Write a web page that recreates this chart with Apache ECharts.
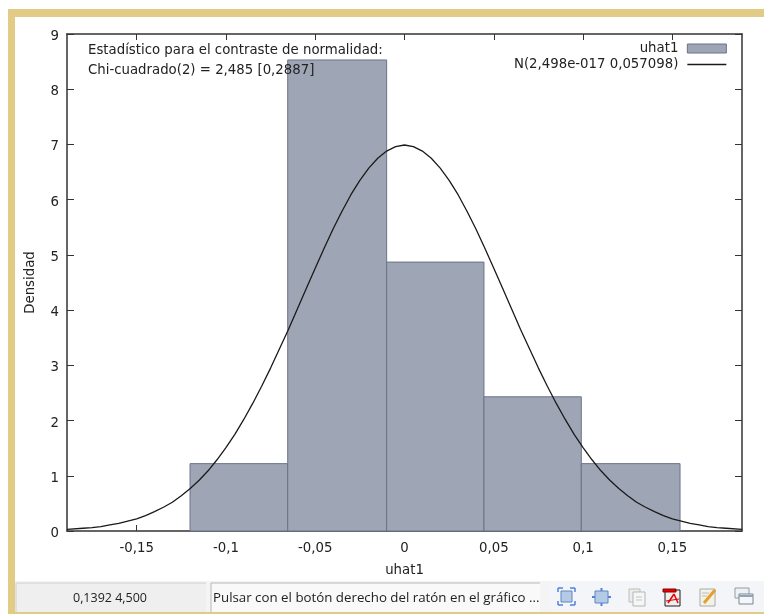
<!DOCTYPE html>
<html><head><meta charset="utf-8">
<style>html,body{margin:0;padding:0;background:#fff}#c{width:764px;height:614px}</style>
<script src="https://cdn.jsdelivr.net/npm/echarts@6/dist/echarts.min.js"></script>
</head><body><div id="c"></div>
<script>
var barEdges = [-0.1201, -0.0654, -0.0100, 0.0445, 0.0990, 0.1543];
var barHeights = [1.22, 8.53, 4.87, 2.43, 1.22];
var curveX = [-0.189,-0.18,-0.175,-0.17,-0.165,-0.16,-0.155,-0.15,-0.145,-0.14,-0.135,-0.13,-0.125,-0.12,-0.115,-0.11,-0.105,-0.10,-0.095,-0.09,-0.085,-0.08,-0.075,-0.07,-0.065,-0.06,-0.055,-0.05,-0.045,-0.04,-0.035,-0.03,-0.025,-0.02,-0.015,-0.01,-0.005,0,0.005,0.01,0.015,0.02,0.025,0.03,0.035,0.04,0.045,0.05,0.055,0.06,0.065,0.07,0.075,0.08,0.085,0.09,0.095,0.10,0.105,0.11,0.115,0.12,0.125,0.13,0.135,0.14,0.145,0.15,0.155,0.16,0.165,0.17,0.175,0.18,0.189];
var curveY = [0.03,0.05,0.06,0.08,0.11,0.14,0.18,0.22,0.28,0.35,0.43,0.52,0.64,0.77,0.92,1.09,1.29,1.51,1.75,2.02,2.31,2.62,2.95,3.30,3.65,4.02,4.39,4.76,5.12,5.47,5.79,6.09,6.35,6.57,6.75,6.88,6.96,6.99,6.96,6.88,6.75,6.57,6.35,6.09,5.79,5.47,5.12,4.76,4.39,4.02,3.65,3.30,2.95,2.62,2.31,2.02,1.75,1.51,1.29,1.09,0.92,0.77,0.64,0.52,0.43,0.35,0.28,0.22,0.18,0.14,0.11,0.08,0.06,0.05,0.03];
var xTicks = [-0.15,-0.1,-0.05,0,0.05,0.1,0.15];
var xTickLabels = ['-0,15','-0,1','-0,05','0','0,05','0,1','0,15'];
var seriesHist = 'uhat1';
var seriesNorm = 'N(2,498e-017 0,057098)';
var note1 = 'Estadístico para el contraste de normalidad:';
var note2 = 'Chi-cuadrado(2) = 2,485 [0,2887]';
var xName = 'uhat1', yName = 'Densidad';
var statusCoord = '0,1392 4,500';
var statusMsg = 'Pulsar con el botón derecho del ratón en el gráfico ...';

var FONT = '"DejaVu Sans"', FS = 13.3, TXT = '#222222', AX = '#333333', TAN = '#E2CC85';
var histData = barHeights.map(function(h,i){ return [barEdges[i], barEdges[i+1], h]; });
var curve = curveX.map(function(x,i){ return [x, curveY[i]]; });

function box(x,y,w,h,fill,stroke,z){ return {type:'rect',silent:true,z:z||1,shape:{x:x,y:y,width:w,height:h},style:{fill:fill,stroke:stroke||null,lineWidth:1}}; }
function seg(x1,y1,x2,y2,c,w){ return {type:'line',silent:true,z:3,shape:{x1:x1,y1:y1,x2:x2,y2:y2},style:{stroke:c,lineWidth:w||1}}; }
function txt(x,y,t,font,align){ return {type:'text',silent:true,z:100,x:x,y:y,style:{text:t,fill:TXT,font:font,textAlign:align||'left',textVerticalAlign:'middle'}}; }

var BL = '#4d82e0', BF = '#b4cbe8';
var icons = [
  box(561,591,11,11,BF,'#5f86c0',2),
  seg(558,588,563,588,BL,1.5),seg(558,588,558,592,BL,1.5),seg(570,588,575,588,BL,1.5),seg(575,588,575,592,BL,1.5),
  seg(558,605,563,605,BL,1.5),seg(558,601,558,605,BL,1.5),seg(570,605,575,605,BL,1.5),seg(575,601,575,605,BL,1.5),
  box(595,591,13,12,BF,'#5f86c0',2),
  seg(601.5,588,601.5,591,BL,2),seg(601.5,603,601.5,606,BL,2),seg(592,597,595,597,BL,2),seg(608,597,611,597,BL,2),
  box(629,589,11,13,'#ececec','#bdbdbd',2), box(633,592,12,14,'#f6f6f6','#b5b5b5',2),
  seg(636,597,642,597,'#c4c4c4'),seg(636,600,642,600,'#c4c4c4'),
  box(665,590,15,16,'#eeeeee','#1c1c1c',2), box(663,589,13,3,'#e60000','#8a0000',3),
  seg(668,603,674,594,'#e60000',1.5),seg(674,594,678,603,'#e60000',1.5),seg(666,601,679,599,'#e60000',1.2),
  box(700,589,15,17,'#f4f1e6','#aaaaaa',2),
  seg(704,603,715,590,'#e2a12c',3),seg(702,593,709,593,'#bbbbbb'),seg(702,596,707,596,'#bbbbbb'),
  box(735,588,14,10,'#eef0f4','#9a9a9a',2), box(739,594,14,10,'#f4f6fa','#7f8791',2), seg(739,596,753,596,'#8fa3bd',2)
];

var chart = echarts.init(document.getElementById('c'),null,{renderer:'canvas'});
chart.setOption({
  animation:false,
  backgroundColor:'#ffffff',
  textStyle:{fontFamily:FONT},
  grid:{left:67,top:34,width:675,height:497,containLabel:false},
  legend:{orient:'vertical',right:32,top:37,align:'right',itemWidth:39,itemHeight:9,itemGap:3,
    selectedMode:false,textStyle:{fontFamily:FONT,fontSize:FS,color:TXT,padding:[0,4,0,0]},
    data:[{name:seriesHist,icon:'rect',itemStyle:{color:'#9EA5B5',borderColor:'#6b7389',borderWidth:1}},
          {name:seriesNorm,itemStyle:{opacity:0},lineStyle:{color:'#1a1a1a',width:1.3,opacity:1}}]},
  xAxis:[
   {type:'value',min:-0.189,max:0.189,position:'bottom',splitLine:{show:false},
    name:xName,nameLocation:'middle',nameGap:33,nameTextStyle:{fontSize:FS,color:TXT},
    axisLine:{onZero:false,lineStyle:{color:AX,width:1.5}},
    axisTick:{inside:true,length:6,lineStyle:{color:AX},customValues:xTicks},
    axisLabel:{color:TXT,fontSize:FS,margin:11,customValues:xTicks,formatter:function(v){var i=xTicks.findIndex(function(t){return Math.abs(t-v)<1e-6});return i<0?'':xTickLabels[i];}}},
   {type:'value',min:-0.189,max:0.189,position:'top',splitLine:{show:false},
    axisLine:{onZero:false,lineStyle:{color:AX,width:1.5}},
    axisTick:{inside:true,length:6,lineStyle:{color:AX},customValues:xTicks},
    axisLabel:{show:false}}
  ],
  yAxis:[
   {type:'value',min:0,max:9,interval:1,position:'left',splitLine:{show:false},
    name:yName,nameLocation:'middle',nameGap:30,nameTextStyle:{fontSize:FS,color:TXT},
    axisLine:{onZero:false,lineStyle:{color:AX,width:1.5}},
    axisTick:{inside:true,length:7,lineStyle:{color:AX}},
    axisLabel:{color:TXT,fontSize:FS,margin:8,formatter:'{a|{value}}',rich:{a:{fontSize:FS,color:TXT,fontFamily:FONT,padding:[5,0,0,0]}}}},
   {type:'value',min:0,max:9,interval:1,position:'right',splitLine:{show:false},
    axisLine:{onZero:false,lineStyle:{color:AX,width:1.5}},
    axisTick:{inside:true,length:7,lineStyle:{color:AX}},
    axisLabel:{show:false}}
  ],
  series:[
   {type:'custom',name:seriesHist,xAxisIndex:0,yAxisIndex:0,z:2,
    encode:{x:[0,1],y:2},data:histData,
    itemStyle:{color:'#9EA5B5',borderColor:'#6b7389',borderWidth:1},
    renderItem:function(p,api){
      var a=api.coord([api.value(0),api.value(2)]), b=api.coord([api.value(1),0]);
      return {type:'rect',shape:{x:a[0],y:a[1],width:b[0]-a[0],height:b[1]-a[1]},
        style:{fill:'#9EA5B5',stroke:'#6b7389',lineWidth:1}};
    }},
   {type:'line',name:seriesNorm,xAxisIndex:0,yAxisIndex:0,z:3,data:curve,smooth:false,symbol:'none',
    lineStyle:{color:'#1a1a1a',width:1.3},itemStyle:{color:'#1a1a1a'}}
  ],
  graphic:[
    box(8,9,756,8,TAN), box(8,9,7,605,TAN), box(8,612,756,2,TAN),
    box(15,581,749,31,'#f4f4f4'),
    box(16,583,190,29,'#efefef'), seg(16,583,206,583,'#d0d0d0'), seg(16,583,16,612,'#d0d0d0'),
    box(211,583,329,29,'#f9f9f9'), seg(211,583,540,583,'#b8b8b8'), seg(211,583,211,612,'#b8b8b8'),
    box(549,581,215,31,'#f3f5f9')
  ].concat(icons).concat([
    txt(88,50.5,note1,FS+'px '+FONT), txt(88,70.5,note2,FS+'px '+FONT),
    txt(110,598,statusCoord,'12.5px "Open Sans"','center'),
    txt(213,598,statusMsg,'13.3px "Open Sans"')
  ])
});
</script></body></html>
